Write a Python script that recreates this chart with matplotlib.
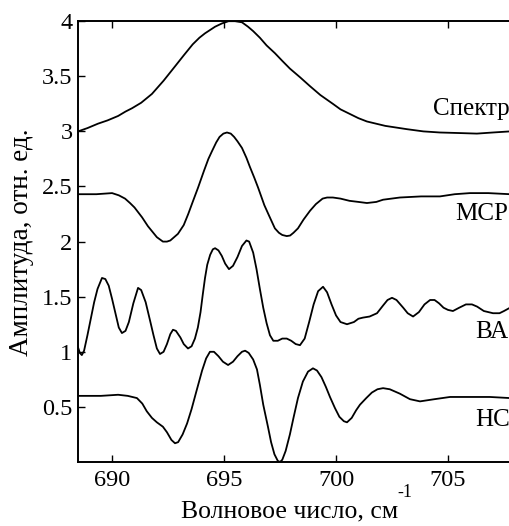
# -*- coding: utf-8 -*-
import matplotlib
matplotlib.use('Agg')
import matplotlib.pyplot as plt

plt.rcParams['font.family'] = ['Liberation Serif', 'DejaVu Serif']

# Спектр
spec_x = [688.48, 688.9, 689.37, 689.8, 690.27, 690.6, 690.89, 691.3, 691.78, 692.3,
          692.81, 693.2, 693.6, 693.9, 694.15, 694.6, 694.91, 695.2, 695.49, 695.8,
          696.07, 696.3, 696.6, 696.9, 697.27, 697.6, 697.94, 698.4, 698.84, 699.3,
          699.86, 700.2, 700.6, 701.0, 701.38, 702.2, 703.17, 703.9, 704.64, 705.5,
          706.29, 707.0, 707.77, 708.5]
spec_y = [3.00, 3.03, 3.07, 3.10, 3.14, 3.18, 3.21, 3.26, 3.34, 3.46,
          3.59, 3.69, 3.79, 3.85, 3.89, 3.95, 3.98, 4.00, 4.00, 3.99,
          3.95, 3.91, 3.85, 3.78, 3.71, 3.64, 3.57, 3.49, 3.41, 3.33,
          3.25, 3.20, 3.16, 3.12, 3.09, 3.05, 3.02, 3.00, 2.99, 2.985,
          2.98, 2.99, 3.00, 3.00]

# МСР
msr_x = [688.48, 689.3, 690.0, 690.3, 690.58, 690.8, 691.0, 691.34, 691.6, 691.8,
         692.0, 692.27, 692.45, 692.6, 692.94, 693.2, 693.4, 693.6, 693.84, 694.1,
         694.3, 694.46, 694.65, 694.8, 694.97, 695.13, 695.3, 695.45, 695.6, 695.8,
         696.0, 696.15, 696.35, 696.52, 696.8, 697.0, 697.27, 697.45, 697.6, 697.8,
         697.95, 698.1, 698.3, 698.55, 698.84, 699.1, 699.4, 699.6, 699.86, 700.2,
         700.6, 701.0, 701.38, 701.8, 702.1, 702.85, 703.8, 704.64, 705.3, 705.98,
         706.8, 707.77, 708.5]
msr_y = [2.43, 2.43, 2.44, 2.42, 2.39, 2.35, 2.31, 2.22, 2.14, 2.09,
         2.04, 2.00, 2.00, 2.01, 2.07, 2.15, 2.25, 2.36, 2.49, 2.64,
         2.75, 2.82, 2.90, 2.95, 2.98, 2.99, 2.98, 2.95, 2.91, 2.85,
         2.76, 2.68, 2.58, 2.49, 2.33, 2.24, 2.12, 2.08, 2.06, 2.05,
         2.055, 2.08, 2.12, 2.20, 2.28, 2.34, 2.39, 2.40, 2.40, 2.39,
         2.37, 2.36, 2.35, 2.36, 2.38, 2.40, 2.41, 2.41, 2.43, 2.44,
         2.44, 2.43, 2.43]

# ВА
va_x = [688.48, 688.56, 688.65, 688.75, 688.9, 689.05, 689.2, 689.35, 689.55, 689.7,
        689.85, 690.0, 690.15, 690.3, 690.44, 690.6, 690.75, 690.95, 691.16, 691.3,
        691.5, 691.7, 691.85, 692.0, 692.14, 692.3, 692.45, 692.6, 692.72, 692.85,
        693.05, 693.2, 693.39, 693.55, 693.7, 693.83, 693.95, 694.05, 694.15, 694.25,
        694.38, 694.5, 694.6, 694.75, 694.9, 695.05, 695.22, 695.4, 695.6, 695.8,
        696.0, 696.12, 696.3, 696.45, 696.6, 696.75, 696.9, 697.05, 697.2, 697.4,
        697.6, 697.8, 698.0, 698.2, 698.39, 698.6, 698.8, 699.0, 699.2, 699.42,
        699.6, 699.8, 700.0, 700.2, 700.49, 700.8, 701.0, 701.2, 701.5, 701.83,
        702.1, 702.3, 702.5, 702.7, 703.0, 703.2, 703.44, 703.7, 703.95, 704.2,
        704.4, 704.6, 704.8, 705.0, 705.22, 705.5, 705.8, 706.07, 706.3, 706.6,
        707.01, 707.3, 707.5, 707.77, 708.5]
va_y = [1.04, 0.99, 0.97, 1.01, 1.15, 1.30, 1.45, 1.57, 1.67, 1.66,
        1.60, 1.48, 1.35, 1.22, 1.17, 1.19, 1.27, 1.44, 1.58, 1.56,
        1.45, 1.28, 1.15, 1.03, 0.98, 1.00, 1.07, 1.16, 1.20, 1.19,
        1.13, 1.07, 1.03, 1.05, 1.12, 1.22, 1.36, 1.52, 1.67, 1.79,
        1.88, 1.93, 1.94, 1.92, 1.87, 1.80, 1.75, 1.78, 1.86, 1.96,
        2.01, 2.00, 1.90, 1.75, 1.57, 1.40, 1.26, 1.15, 1.10, 1.10,
        1.12, 1.12, 1.10, 1.07, 1.06, 1.12, 1.27, 1.43, 1.55, 1.59,
        1.54, 1.43, 1.33, 1.27, 1.25, 1.27, 1.30, 1.31, 1.32, 1.35,
        1.42, 1.47, 1.49, 1.47, 1.40, 1.35, 1.32, 1.36, 1.43, 1.47,
        1.47, 1.44, 1.40, 1.38, 1.37, 1.40, 1.43, 1.43, 1.41, 1.37,
        1.35, 1.35, 1.37, 1.40, 1.44]

# НС
ns_x = [688.48, 689.5, 690.27, 690.7, 691.11, 691.35, 691.55, 691.78, 692.0, 692.27,
        692.45, 692.65, 692.81, 692.95, 693.15, 693.35, 693.55, 693.75, 694.02, 694.2,
        694.37, 694.55, 694.75, 694.95, 695.18, 695.4, 695.6, 695.8, 695.94, 696.1,
        696.3, 696.47, 696.6, 696.75, 696.96, 697.1, 697.25, 697.4, 697.5, 697.6,
        697.75, 697.94, 698.1, 698.3, 698.52, 698.75, 698.97, 699.15, 699.35, 699.55,
        699.73, 699.95, 700.15, 700.35, 700.49, 700.7, 700.9, 701.07, 701.35, 701.6,
        701.85, 702.1, 702.4, 702.85, 703.3, 703.75, 704.4, 705.09, 706.0, 706.87,
        707.77, 708.5]
ns_y = [0.60, 0.60, 0.61, 0.60, 0.58, 0.53, 0.46, 0.40, 0.36, 0.32,
        0.27, 0.20, 0.17, 0.18, 0.25, 0.35, 0.48, 0.63, 0.83, 0.94,
        1.00, 1.00, 0.96, 0.91, 0.88, 0.91, 0.96, 1.00, 1.01, 0.99,
        0.93, 0.84, 0.70, 0.52, 0.32, 0.18, 0.07, 0.01, 0.00, 0.02,
        0.10, 0.25, 0.40, 0.58, 0.73, 0.82, 0.85, 0.83, 0.77, 0.68,
        0.59, 0.49, 0.41, 0.37, 0.36, 0.40, 0.47, 0.52, 0.58, 0.63,
        0.66, 0.67, 0.66, 0.62, 0.57, 0.55, 0.57, 0.59, 0.59, 0.59,
        0.58, 0.58]

names = ['Спектр', 'МСР', 'ВА', 'НС']
name_x = [704.33, 705.3, 706.2, 706.2]
name_y = [3.2, 2.25, 1.18, 0.38]

xticks = [690, 695, 700, 705]
yticks = [0.5, 1, 1.5, 2, 2.5, 3, 3.5, 4]

fig = plt.figure(figsize=(5.1, 5.26), dpi=100)
ax = fig.add_axes([0.153, 0.1217, 0.945, 0.838])

for x, y in [(spec_x, spec_y), (msr_x, msr_y), (va_x, va_y), (ns_x, ns_y)]:
    ax.plot(x, y, 'k-', lw=1.3)

for n, tx, ty in zip(names, name_x, name_y):
    ax.text(tx, ty, n, fontsize=18, ha='left', va='center')

ax.set_xlim(688.48, 710)
ax.set_ylim(0, 4)
ax.set_xticks(xticks)
ax.set_yticks(yticks)
ax.set_yticklabels(['%g' % v for v in yticks])
ax.tick_params(direction='in', length=5, width=1, labelsize=17.5, top=True, pad=4)
ax.tick_params(axis='x', pad=6)
for s in ax.spines.values():
    s.set_linewidth(1.4)

# подпись оси x, показатель степени отдельно (дефис, как в оригинале)
fig.text(0.568, 0.028, 'Волновое число, см', fontsize=18.5, ha='center', va='center')
fig.text(0.794, 0.064, '-1', fontsize=13, ha='center', va='center')
fig.text(0.043, 0.54, 'Амплитуда, отн. ед.', fontsize=19.5, ha='center', va='center',
         rotation=90)

fig.savefig('out.png', dpi=100)
